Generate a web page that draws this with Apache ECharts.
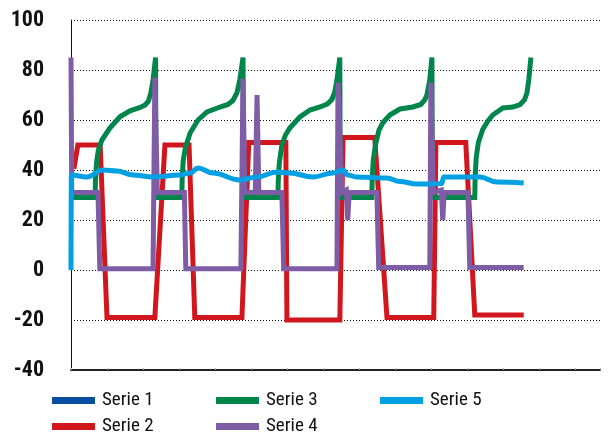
<!DOCTYPE html>
<html>
<head>
<meta charset="utf-8">
<script src="https://cdn.jsdelivr.net/npm/echarts@6/dist/echarts.min.js"></script>
<style>html,body{margin:0;padding:0;background:#fff}#c{width:611px;height:437px}</style>
</head>
<body>
<div id="c"></div>
<script>
// x values are time units (one axis tick every 10 units)
const yTicks = [-40, -20, 0, 20, 40, 60, 80, 100];
const seriesNames = ['Serie 1', 'Serie 2', 'Serie 3', 'Serie 4', 'Serie 5'];

const serie1 = [];

const serie2 = [
  [0.8,40.5],[1.9,50],[8.1,50],[10,-19],[23.3,-19],[26.1,50],[32.8,50],[34.4,-19],
  [47.5,-19],[49.4,51],[59.7,51],[60,-20],[74.7,-20],[75.6,53],[84.4,53],[87.8,-19],
  [100.8,-19],[101.4,51],[109.7,51],[112.2,-18],[125.8,-18]
];

const serie3 = [
  [0.3,29],[6.7,29],[6.8,36],[7.1,43],[7.6,48],[8.6,52],[10.8,56.8],[13.6,61.3],[16.4,63.7],[19.2,65],[20.6,66],[21.5,67.5],[22.2,70.8],[22.8,76],[23.5,85],
  [23.6,29],[30.8,29],[30.9,37],[31.2,44],[31.8,49],[33.1,54.8],[35.3,60],[37.8,63.2],[41.4,65.2],[43.6,66.2],[45,67.8],[46.1,70.8],[46.9,76],[47.8,85],
  [47.9,29],[57.5,29],[57.6,36],[57.9,43],[58.6,50],[59.6,54],[60.8,56.8],[63.6,61.2],[66.4,64],[69.2,65.2],[71.2,66.4],[72.5,68.2],[73.3,71.2],[73.9,76],[74.7,85],
  [74.8,29],[83.6,29],[83.7,37],[84,44],[84.6,50],[85.6,56],[86.7,59],[88.6,62],[91.4,64.4],[95,65.2],[97.2,66.2],[98.3,68],[98.9,70],[99.7,76],[100.3,85],
  [100.4,29],[112.2,29],[112.3,37],[112.6,45],[113.2,51],[114.4,56.2],[115.8,59.5],[117.2,62],[120,64.8],[122.8,65.2],[124.8,66.2],[126,68],[126.7,70.8],[127.2,76],[127.8,85]
];

const serie4 = [
  [0,85],[0.2,31],[7.5,31],[8,0.5],[22.8,0.5],[23.3,77],[24,31],[31.5,31],[31.9,0.5],
  [47.2,0.5],[47.8,76.5],[48.3,31],[51.2,31],[51.7,70],[52.2,31],[58.6,31],[59.1,0.5],
  [73.9,0.5],[74.2,75],[75.3,31],[76.5,32],[76.9,20],[77.3,31],[85,31],[85.5,1],
  [99.7,1],[100,75],[100.7,31],[102.9,32],[103.3,20],[103.7,31],[110.3,31],[110.8,1],[125.8,1]
];

const serie5 = [
  [0,0],[0.1,38],[4.4,37.2],[8.9,40],[12.8,39.6],[17.2,38],[22.8,37.2],[30.3,38],[33.1,38.8],
  [35.3,40.8],[39.4,38.8],[46.9,36],[51.7,37.2],[57.2,39.2],[60.8,38.8],[67.2,37.2],[72.8,38.8],
  [75.6,40],[76.9,38],[79.4,37.2],[87.8,36.8],[91.4,35.4],[96.1,34.4],[99.7,34.4],[103,34.6],
  [103.6,37.2],[108.3,37.2],[113.6,37.2],[118.3,35.2],[125.8,34.8]
];

const colors = ['#0a4e9f', '#d2161e', '#00854a', '#7f5ca6', '#00a0e3'];
const dataSets = [serie1, serie2, serie3, serie4, serie5];
const FONT = "'Roboto Condensed', 'Liberation Sans Narrow', 'Liberation Sans', Arial, sans-serif";

const legendPos = [
  {left: 52, top: 391}, {left: 52, top: 417},
  {left: 216, top: 391}, {left: 216, top: 417},
  {left: 380, top: 391}
];

const chart = echarts.init(document.getElementById('c'), null, {renderer: 'canvas'});
chart.setOption({
  animation: false,
  color: colors,
  grid: {left: 71, right: 11, top: 20, bottom: 67, containLabel: false},
  legend: seriesNames.map((n, i) => ({
    data: [n], left: legendPos[i].left, top: legendPos[i].top,
    icon: 'rect', itemWidth: 43, itemHeight: 7, padding: 0,
    textStyle: {fontFamily: FONT, fontSize: 19, color: '#111', padding: [0, 0, 0, 2]},
    selectedMode: false
  })),
  xAxis: {
    type: 'value', min: 0, max: 147, interval: 10,
    axisLine: {show: true, onZero: false, lineStyle: {color: '#222', width: 2}},
    axisTick: {show: true, inside: true, length: 2, lineStyle: {color: '#aaa'}},
    axisLabel: {show: false},
    splitLine: {show: false}
  },
  yAxis: {
    type: 'value', min: yTicks[0], max: yTicks[yTicks.length - 1], interval: 20,
    axisLine: {show: true, lineStyle: {color: '#111', width: 1}},
    axisTick: {show: false},
    axisLabel: {fontFamily: FONT, fontSize: 22, fontWeight: 'bold', color: '#111', margin: 27},
    splitLine: {show: true, lineStyle: {color: '#111', width: 1, type: [1, 2]}}
  },
  series: seriesNames.map((n, i) => ({
    name: n, type: 'line', data: dataSets[i], showSymbol: false, symbol: 'none',
    smooth: i === 4 ? 0.4 : false, smoothMonotone: i === 4 ? 'x' : undefined,
    lineStyle: {width: 5, color: colors[i], cap: 'butt', join: 'miter'},
    itemStyle: {color: colors[i]},
    z: 2 + i
  }))
});
</script>
</body>
</html>
